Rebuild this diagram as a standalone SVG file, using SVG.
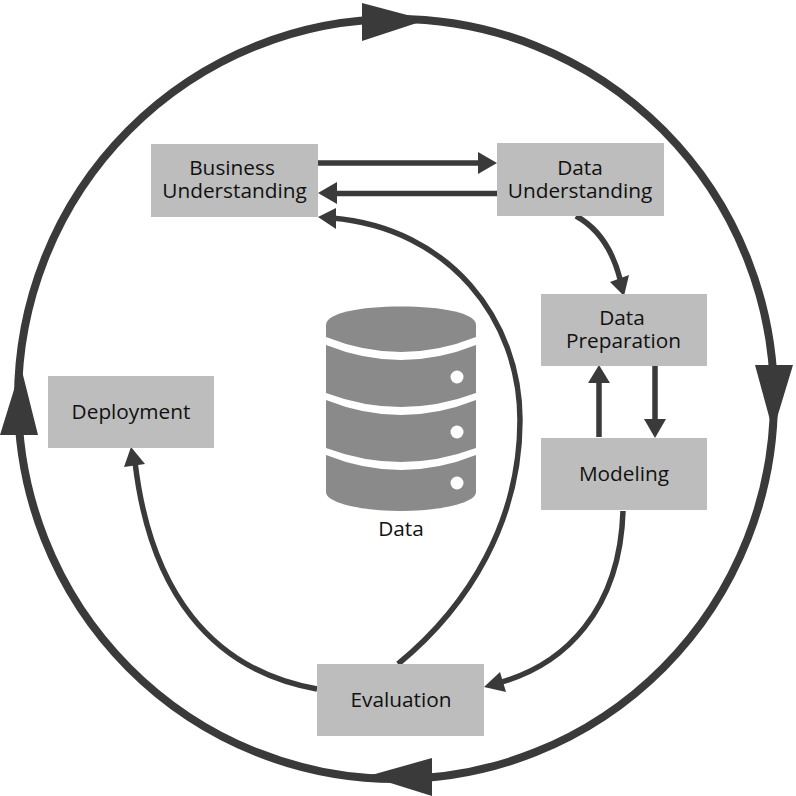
<svg xmlns="http://www.w3.org/2000/svg" width="796" height="796" viewBox="0 0 796 796">
<style>
.n{fill:#bdbdbd}
.t{font-family:"Open Sans","Noto Sans",sans-serif;font-size:20.8px;fill:#111;text-anchor:middle}
.c{fill:none;stroke:#3a3a3a;stroke-width:5.5}
.o{fill:none;stroke:#3a3a3a;stroke-width:8}
.a{fill:#3a3a3a}
.d{fill:#8a8a8a}
</style>
<rect width="796" height="796" fill="#fff"/>
<g id="connectors">
<ellipse class="o" cx="396" cy="399" rx="378" ry="380"/>
<polygon class="a" points="362,3 426,20 362,41"/>
<polygon class="a" points="755,365 793,365 773,431"/>
<polygon class="a" points="432,758 432,796 368,776"/>
<polygon class="a" points="0,435 38,435 21,367"/>
<path class="c" d="M318 163H482"/><polygon class="a" points="478,152 497,163 478,174"/>
<path class="c" d="M497 193.500H332"/><polygon class="a" points="337,182 318,193 337,204"/>
<path class="c" d="M576 216C598 228 612 248 620 279"/><polygon class="a" points="610,282 629,275 624,296"/>
<path class="c" d="M599 437V380"/><polygon class="a" points="588,383 610,383 599,365"/>
<path class="c" d="M655 366V422"/><polygon class="a" points="644,419 666,419 655,438"/>
<path class="c" d="M623 511C620 610 565 665 498 683"/><polygon class="a" points="500,672 506,692 484,687"/>
<path class="c" d="M398 664C470 605 520 520 520 420C520 320 450 228 332 218"/><polygon class="a" points="336,208 336,229 318,217"/>
<path class="c" d="M317 689C210 670 150 590 135 462"/><polygon class="a" points="124,467 145,464 131,447"/>
</g>
<g id="business"><rect class="n" x="151" y="144" width="167" height="73"/><text class="t" x="232" y="175">Business</text><text class="t" x="234.500" y="198">Understanding</text></g>
<g id="understanding"><rect class="n" x="497" y="143" width="167" height="73"/><text class="t" x="580" y="175">Data</text><text class="t" x="580" y="198">Understanding</text></g>
<g id="preparation"><rect class="n" x="541" y="294" width="166" height="72"/><text class="t" x="622" y="325">Data</text><text class="t" x="623.500" y="348">Preparation</text></g>
<g id="modeling"><rect class="n" x="541" y="438" width="166" height="72"/><text class="t" x="624" y="481">Modeling</text></g>
<g id="evaluation"><rect class="n" x="317" y="664" width="167" height="72"/><text class="t" x="401" y="707">Evaluation</text></g>
<g id="deployment"><rect class="n" x="48" y="376" width="166" height="72"/><text class="t" x="131" y="419">Deployment</text></g>
<g id="data">
<path class="d" d="M326 325C326 313 360 306.500 401 306.500C442 306.500 476 313 476 325V337Q401 367 326 337Z"/>
<path class="d" d="M326 345Q401 375 476 345V393Q401 421 326 393Z"/>
<path class="d" d="M326 400Q401 430 476 400V448Q401 476 326 448Z"/>
<path class="d" d="M326 455Q401 485 476 455V492C476 503 440 511 401 511C362 511 326 503 326 492Z"/>
<circle cx="457" cy="377" r="6.500" fill="#fff"/><circle cx="457" cy="432" r="6.500" fill="#fff"/><circle cx="457" cy="483" r="6.500" fill="#fff"/>
<text class="t" x="401" y="536">Data</text>
</g>
</svg>
